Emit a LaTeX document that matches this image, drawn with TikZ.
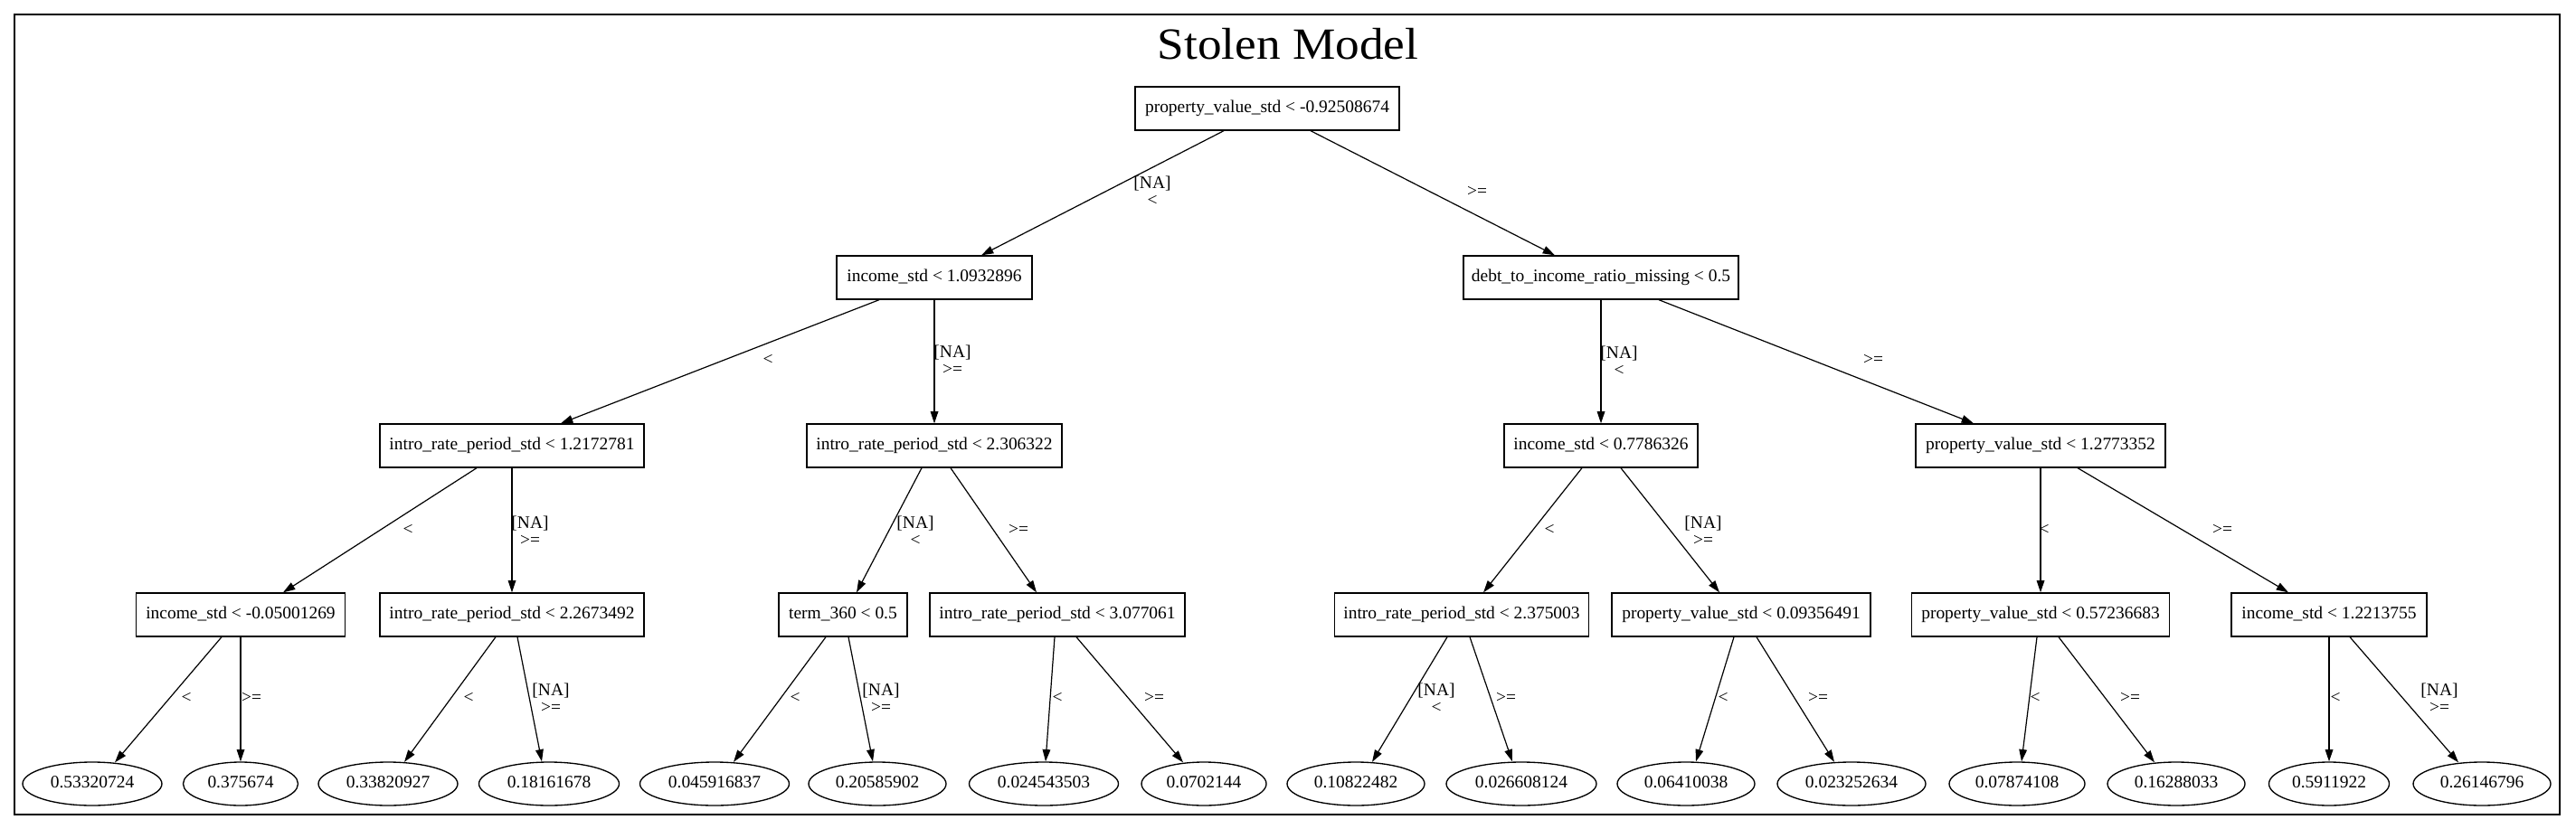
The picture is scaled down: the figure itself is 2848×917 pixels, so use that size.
\documentclass[tikz,border=0pt]{standalone}
\usepackage{fontspec}
\setmainfont{Liberation Serif}
\usetikzlibrary{arrows.meta,calc,shapes.geometric}
\newcommand{\tfont}{\fontsize{14.6}{14.6}\selectfont}
\tikzset{
  tnode/.style={draw, line width=1pt, rectangle, minimum height=36pt, inner sep=2pt,
    font=\tfont, text height=10pt, text depth=3pt},
  leafnode/.style={draw, line width=1pt, ellipse, minimum height=36pt, inner sep=1pt,
    font=\tfont, text height=10pt, text depth=3pt},
  bw/.style={minimum width=#1*0.75pt},
  conn/.style={line width=0.9pt, -{Triangle[length=10pt,width=6.5pt]}},
  elab/.style={font=\tfont, align=center, inner sep=0pt},
}
\begin{document}
\begin{tikzpicture}[x=0.75pt,y=-0.75pt]
\useasboundingbox (0,0) rectangle (2848,917);
\draw[line width=1pt] (16,16) rectangle (2830,901);
\node[anchor=base, font=\fontsize{37}{40}\selectfont, inner sep=0pt] (title) at (1424,65) {\scalebox{1.08}[1]{Stolen Model}};

% level 0
\node[tnode, bw=292] (root) at (1401,120) {property\_value\_std < -0.92508674};
% level 1
\node[tnode, bw=216] (inc1) at (1033,307) {income\_std < 1.0932896};
\node[tnode, bw=304] (debt) at (1770,307) {debt\_to\_income\_ratio\_missing < 0.5};
% level 2
\node[tnode, bw=292] (irp1) at (566,493) {intro\_rate\_period\_std < 1.2172781};
\node[tnode, bw=282] (irp2) at (1033,493) {intro\_rate\_period\_std < 2.306322};
\node[tnode, bw=214] (inc2) at (1770,493) {income\_std < 0.7786326};
\node[tnode, bw=276] (pv2) at (2256,493) {property\_value\_std < 1.2773352};
% level 3
\node[tnode, bw=231] (ist3) at (266,680) {income\_std < -0.05001269};
\node[tnode, bw=292] (irp3) at (566,680) {intro\_rate\_period\_std < 2.2673492};
\node[tnode, bw=142] (term) at (932,680) {term\_360 < 0.5};
\node[tnode, bw=282] (irp4) at (1169,680) {intro\_rate\_period\_std < 3.077061};
\node[tnode, bw=281] (irp5) at (1616,680) {intro\_rate\_period\_std < 2.375003};
\node[tnode, bw=286] (pv3) at (1925,680) {property\_value\_std < 0.09356491};
\node[tnode, bw=285] (pv4) at (2256,680) {property\_value\_std < 0.57236683};
\node[tnode, bw=216] (ist4) at (2575,680) {income\_std < 1.2213755};
% leaves
\node[leafnode, bw=154] (l1) at (102,867) {0.53320724};
\node[leafnode, bw=127] (l2) at (266,867) {0.375674};
\node[leafnode, bw=154] (l3) at (429,867) {0.33820927};
\node[leafnode, bw=155] (l4) at (607,867) {0.18161678};
\node[leafnode, bw=165] (l5) at (790,867) {0.045916837};
\node[leafnode, bw=152] (l6) at (970,867) {0.20585902};
\node[leafnode, bw=165] (l7) at (1154,867) {0.024543503};
\node[leafnode, bw=138] (l8) at (1331,867) {0.0702144};
\node[leafnode, bw=152] (l9) at (1499,867) {0.10822482};
\node[leafnode, bw=166] (l10) at (1682,867) {0.026608124};
\node[leafnode, bw=152] (l11) at (1864,867) {0.06410038};
\node[leafnode, bw=164] (l12) at (2047,867) {0.023252634};
\node[leafnode, bw=150] (l13) at (2230,867) {0.07874108};
\node[leafnode, bw=152] (l14) at (2406,867) {0.16288033};
\node[leafnode, bw=133] (l15) at (2575,867) {0.5911922};
\node[leafnode, bw=152] (l16) at (2744,867) {0.26146796};

% edges
\draw[conn] ($(root.south)+(-48,0)$) -- ($(inc1.north)+(52,0)$);
\draw[conn] ($(root.south)+(48,0)$) -- ($(debt.north)+(-51,0)$);
\draw[conn] ($(inc1.south)+(-61,0)$) -- ($(irp1.north)+(54,0)$);
\draw[conn] (inc1.south) -- (irp2.north);
\draw[conn] (debt.south) -- (inc2.north);
\draw[conn] ($(debt.south)+(64,0)$) -- ($(pv2.north)+(-74,0)$);
\draw[conn] ($(irp1.south)+(-39,0)$) -- ($(ist3.north)+(47,0)$);
\draw[conn] (irp1.south) -- (irp3.north);
\draw[conn] ($(irp2.south)+(-14,0)$) -- ($(term.north)+(15,0)$);
\draw[conn] ($(irp2.south)+(18,0)$) -- ($(irp4.north)+(-23,0)$);
\draw[conn] ($(inc2.south)+(-21,0)$) -- ($(irp5.north)+(24,0)$);
\draw[conn] ($(inc2.south)+(22,0)$) -- ($(pv3.north)+(-24,0)$);
\draw[conn] (pv2.south) -- (pv4.north);
\draw[conn] ($(pv2.south)+(41,0)$) -- ($(ist4.north)+(-45,0)$);
\draw[conn] ($(ist3.south)+(-21,0)$) -- ($(l1.north)+(25,1)$);
\draw[conn] (ist3.south) -- (l2.north);
\draw[conn] ($(irp3.south)+(-18,0)$) -- ($(l3.north)+(18,0.5)$);
\draw[conn] ($(irp3.south)+(6,0)$) -- ($(l4.north)+(-8,0)$);
\draw[conn] ($(term.south)+(-19,0)$) -- ($(l5.north)+(21,0.5)$);
\draw[conn] ($(term.south)+(6,0)$) -- ($(l6.north)+(-5,0)$);
\draw[conn] ($(irp4.south)+(-3,0)$) -- ($(l7.north)+(2,0)$);
\draw[conn] ($(irp4.south)+(21,0)$) -- ($(l8.north)+(-23,1)$);
\draw[conn] ($(irp5.south)+(-16,0)$) -- ($(l9.north)+(18,0.5)$);
\draw[conn] ($(irp5.south)+(9,0)$) -- ($(l10.north)+(-10,0)$);
\draw[conn] ($(pv3.south)+(-8,0)$) -- ($(l11.north)+(11,0)$);
\draw[conn] ($(pv3.south)+(17,0)$) -- ($(l12.north)+(-19,0.5)$);
\draw[conn] ($(pv4.south)+(-4,0)$) -- ($(l13.north)+(5,0)$);
\draw[conn] ($(pv4.south)+(20,0)$) -- ($(l14.north)+(-24,1)$);
\draw[conn] (ist4.south) -- (l15.north);
\draw[conn] ($(ist4.south)+(23,0)$) -- ($(l16.north)+(-26,1)$);

% edge labels
\node[elab] (e1) at (1274,211) {[NA]\\<};
\node[elab] (e2) at (1633,212) {>=};
\node[elab] (e3) at (849,398) {<};
\node[elab] (e4) at (1053,398) {[NA]\\>=};
\node[elab] (e5) at (1790,399) {[NA]\\<};
\node[elab] (e6) at (2071,398) {>=};
\node[elab] (e7) at (451,586) {<};
\node[elab] (e8) at (586,587) {[NA]\\>=};
\node[elab] (e9) at (1012,587) {[NA]\\<};
\node[elab] (e10) at (1126,586) {>=};
\node[elab] (e11) at (1713,586) {<};
\node[elab] (e12) at (1883,587) {[NA]\\>=};
\node[elab] (e13) at (2260,586) {<};
\node[elab] (e14) at (2457,586) {>=};
\node[elab] (e15) at (206,772) {<};
\node[elab] (e16) at (278,772) {>=};
\node[elab] (e17) at (518,772) {<};
\node[elab] (e18) at (609,772) {[NA]\\>=};
\node[elab] (e19) at (879,772) {<};
\node[elab] (e20) at (974,772) {[NA]\\>=};
\node[elab] (e21) at (1169,772) {<};
\node[elab] (e22) at (1276,772) {>=};
\node[elab] (e23) at (1588,772) {[NA]\\<};
\node[elab] (e24) at (1665,772) {>=};
\node[elab] (e25) at (1905,772) {<};
\node[elab] (e26) at (2010,772) {>=};
\node[elab] (e27) at (2250,772) {<};
\node[elab] (e28) at (2355,772) {>=};
\node[elab] (e29) at (2582,772) {<};
\node[elab] (e30) at (2697,772) {[NA]\\>=};
\end{tikzpicture}
\end{document}
